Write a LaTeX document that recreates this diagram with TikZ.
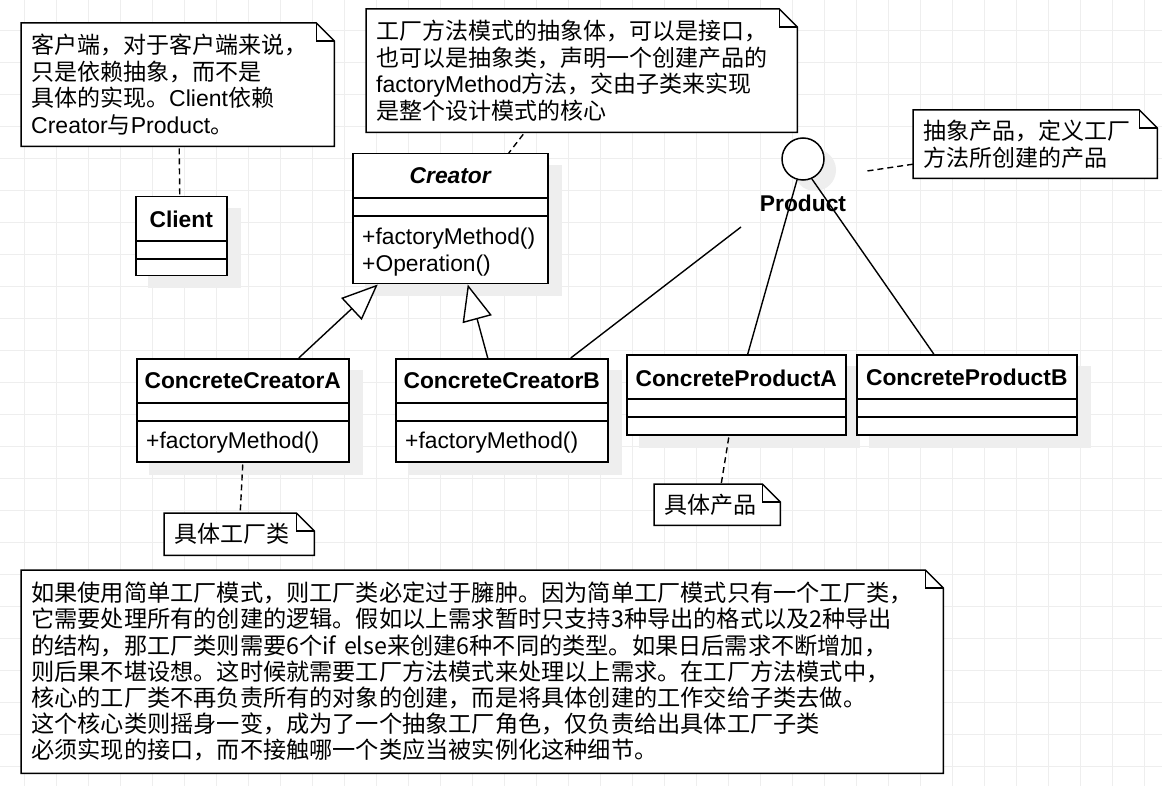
\documentclass[tikz,border=0pt]{standalone}
\usepackage{fontspec}
\setmainfont{Liberation Sans}
\newfontfamily\cjk{Noto Sans CJK SC}
\usetikzlibrary{arrows.meta}
\pgfdeclarelayer{gridlayer}
\pgfdeclarelayer{bglayer}
\pgfsetlayers{gridlayer,bglayer,main}
\definecolor{gridc}{RGB}{238,238,238}
\definecolor{shadowc}{RGB}{238,238,238}
\tikzset{
  gridline/.style={draw=gridc, line width=1pt},
  cls/.style={draw, fill=white, line width=1.5pt, anchor=north west, inner sep=0pt},
  clsline/.style={line width=1.5pt},
  clstitle/.style={font=\fontsize{22.8}{27}\selectfont\bfseries, inner sep=0pt},
  method/.style={font=\fontsize{22.8}{27}\selectfont, inner sep=0pt, anchor=west, align=left},
  umlnote/.style={anchor=north west, inner xsep=10pt, inner ysep=0pt, align=left, font=\fontsize{23}{26.5}\selectfont\cjk},
  notebox/.style={draw, fill=white, line width=1.5pt, line join=miter},
  dashedline/.style={line width=1.4pt, dash pattern=on 6pt off 4pt},
  assoc/.style={line width=1.4pt},
  inherit/.style={line width=1.4pt, -{Triangle[length=36pt,width=30pt,fill=white]}},
}
\newcommand\notefold[1]{%
  \begin{pgfonlayer}{bglayer}
  \draw[notebox] (#1.north west) -- ([xshift=-18pt]#1.north east) -- ([yshift=-18pt]#1.north east) -- (#1.south east) -- (#1.south west) -- cycle;
  \draw[notebox, fill=none] ([xshift=-18pt]#1.north east) -- ([xshift=-18pt,yshift=-18pt]#1.north east) -- ([yshift=-18pt]#1.north east);
  \end{pgfonlayer}}
\newcommand\boxshadow[1]{%
  \begin{pgfonlayer}{bglayer}
  \fill[shadowc] ([xshift=13pt,yshift=-12pt]#1.north west) rectangle ([xshift=13pt,yshift=-12pt]#1.south east);
  \end{pgfonlayer}}
\newcommand\clsdividers[1]{%
  \draw[clsline] ([yshift=-45pt]#1.north west) -- ([yshift=-45pt]#1.north east);
  \draw[clsline] ([yshift=-63pt]#1.north west) -- ([yshift=-63pt]#1.north east);}
\begin{document}
\begin{tikzpicture}[x=1pt,y=-1pt]
\useasboundingbox (0,0) rectangle (1162,786);
\begin{pgfonlayer}{gridlayer}
\fill[white] (0,0) rectangle (1162,786);
\foreach \k in {0,...,35} \draw[gridline] (24.3+32*\k,0) -- (24.3+32*\k,786);
\foreach \k in {0,...,23} \draw[gridline] (0,30.3+32*\k) -- (1162,30.3+32*\k);
\end{pgfonlayer}

% ---------- classes ----------
\node[cls, minimum width=91pt, minimum height=79pt] (client) at (135,196) {};
\boxshadow{client}\clsdividers{client}
\node[clstitle] (clientt) at ([yshift=-23pt]client.north) {Client};

\node[cls, minimum width=195pt, minimum height=130pt] (creator) at (352,153) {};
\boxshadow{creator}\clsdividers{creator}
\node[clstitle, font=\fontsize{22.8}{27}\selectfont\bfseries\itshape] (creatort) at ([yshift=-23pt]creator.north) {Creator};
\node[method] (creatorm) at ([xshift=10pt,yshift=-99.5pt]creator.north west) {+factoryMethod()\\+Operation()};

\node[cls, minimum width=212pt, minimum height=103pt] (ccA) at (136,358) {};
\boxshadow{ccA}\clsdividers{ccA}
\node[clstitle] (ccAt) at ([yshift=-23pt]ccA.north) {ConcreteCreatorA};
\node[method] (ccAm) at ([xshift=10pt,yshift=-85pt]ccA.north west) {+factoryMethod()};

\node[cls, minimum width=212pt, minimum height=103pt] (ccB) at (395,358) {};
\boxshadow{ccB}\clsdividers{ccB}
\node[clstitle] (ccBt) at ([yshift=-23pt]ccB.north) {ConcreteCreatorB};
\node[method] (ccBm) at ([xshift=10pt,yshift=-85pt]ccB.north west) {+factoryMethod()};

\node[cls, minimum width=219pt, minimum height=80pt] (cpA) at (626,354) {};
\boxshadow{cpA}\clsdividers{cpA}
\node[clstitle] (cpAt) at ([yshift=-24pt]cpA.north) {ConcreteProductA};

\node[cls, minimum width=220pt, minimum height=80pt] (cpB) at (856,354) {};
\boxshadow{cpB}\clsdividers{cpB}
\node[clstitle] (cpBt) at ([yshift=-23pt]cpB.north) {ConcreteProductB};

% ---------- interface ----------
\begin{pgfonlayer}{bglayer}
\fill[shadowc] (815,170) circle[radius=21pt];
\end{pgfonlayer}
\node[circle, draw, fill=white, line width=1.5pt, minimum size=42pt, inner sep=0pt] (prod) at (803,159) {};
\node[clstitle] (prodt) at (803,203) {Product};

% ---------- notes ----------
\node[umlnote, minimum width=313pt, minimum height=123pt, text width=293pt] (n1) at (21,23)
  {客户端，对于客户端来说，\\只是依赖抽象，而不是\\具体的实现。{\rmfamily Client}依赖\\{\rmfamily Creator}与{\rmfamily Product}。};
\notefold{n1}

\node[umlnote, minimum width=431pt, minimum height=123pt, text width=411pt] (n2) at (366,9)
  {工厂方法模式的抽象体，可以是接口，\\也可以是抽象类，声明一个创建产品的\\{\rmfamily factoryMethod}方法，交由子类来实现\\是整个设计模式的核心};
\notefold{n2}

\node[umlnote, minimum width=244pt, minimum height=68pt, text width=224pt] (n3) at (913,110)
  {抽象产品，定义工厂\\方法所创建的产品};
\notefold{n3}

\node[umlnote, minimum width=126pt, minimum height=41pt, text width=106pt] (n4) at (654,484) {具体产品};
\notefold{n4}

\node[umlnote, minimum width=150pt, minimum height=42pt, text width=130pt] (n5) at (164,513) {具体工厂类};
\notefold{n5}

\node[umlnote, font=\fontsize{23.2}{26.2}\selectfont\cjk, minimum width=922pt, minimum height=203pt, text width=902pt] (n6) at (21,570)
  {如果使用简单工厂模式，则工厂类必定过于臃肿。因为简单工厂模式只有一个工厂类，\\它需要处理所有的创建的逻辑。假如以上需求暂时只支持3种导出的格式以及2种导出\\的结构，那工厂类则需要6个if else来创建6种不同的类型。如果日后需求不断增加，\\则后果不堪设想。这时候就需要工厂方法模式来处理以上需求。在工厂方法模式中，\\核心的工厂类不再负责所有的对象的创建，而是将具体创建的工作交给子类去做。\\这个核心类则摇身一变，成为了一个抽象工厂角色，仅负责给出具体工厂子类\\必须实现的接口，而不接触哪一个类应当被实例化这种细节。};
\notefold{n6}

% ---------- connectors ----------
\draw[inherit] ([xshift=56pt]ccA.north) -- ([xshift=-72.5pt]creator.south);
\draw[inherit] ([xshift=-14pt]ccB.north) -- ([xshift=17.5pt]creator.south);
\coordinate (prodend) at (741,227);
\draw[assoc] ([xshift=69pt]ccB.north) -- (prodend);
\draw[assoc] (prod.-106) -- ([xshift=11.5pt]cpA.north);
\draw[assoc] (prod.-66) -- ([xshift=-33pt]cpB.north);

\draw[dashedline] ([xshift=1.5pt,yshift=-2pt]n1.south) -- ([xshift=-1.5pt]client.north);
\draw[dashedline] ([xshift=-58.5pt,yshift=-2pt]n2.south) -- ([xshift=58.5pt]creator.north);
\coordinate (prodnote) at (867,171);
\draw[dashedline] ([yshift=-20pt]n3.west) -- (prodnote);
\draw[dashedline] ([xshift=-7.5pt,yshift=-2pt]cpA.south) -- ([xshift=4pt]n4.north);
\draw[dashedline] ([yshift=-2pt]ccA.south) -- ([xshift=1pt]n5.north);
\end{tikzpicture}
\end{document}
